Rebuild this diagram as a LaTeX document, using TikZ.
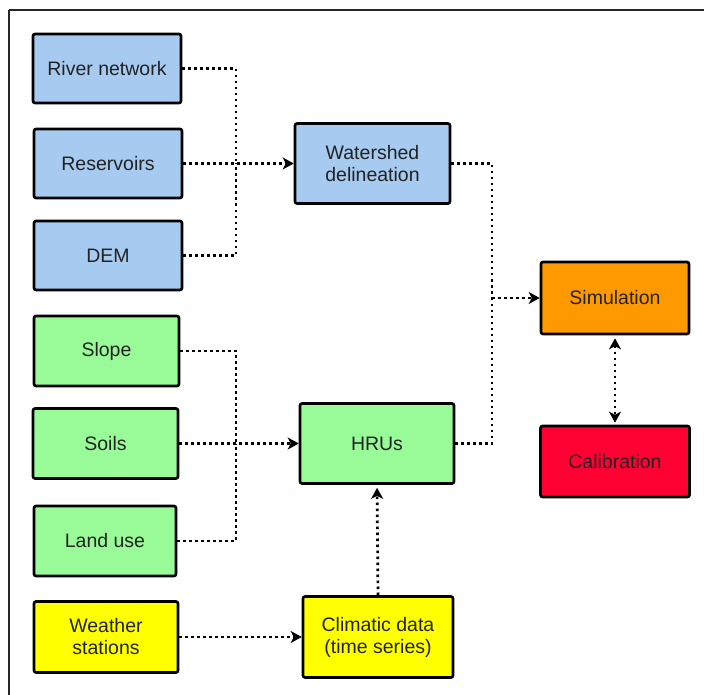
\documentclass[tikz,border=0pt]{standalone}
\usepackage{fontspec}
\setmainfont{Liberation Sans}
\usetikzlibrary{arrows.meta}
\definecolor{cblue}{HTML}{A6CAF0}
\definecolor{cgreen}{HTML}{98FB98}
\definecolor{cyellow}{HTML}{FFFF00}
\definecolor{corange}{HTML}{FF9900}
\definecolor{cred}{HTML}{FF0033}
\definecolor{ctext}{HTML}{222222}
\tikzset{
  box/.style={draw=black, line width=2.6pt, rounded corners=2pt, align=center,
    inner sep=0pt, text=ctext, font=\fontsize{19.5}{22}\selectfont},
  conn/.style={line width=2.7pt, dash pattern=on 2.7pt off 3.3pt},
  arrtip/.tip={Stealth[length=11pt,width=12pt,inset=3pt]},
  tip/.style={-arrtip},
  frameline/.style={line width=1.6pt, draw=black!85}
}
\begin{document}
\begin{tikzpicture}[x=1pt,y=-1pt]
\useasboundingbox (0,0) rectangle (704,695);
\fill[white] (0,0) rectangle (704,695);
\draw[frameline] (9,10) -- (704,10);
\draw[frameline] (9,10) -- (9,695);

% blue inputs
\node[box, fill=cblue, minimum width=148pt, minimum height=69pt] (river) at (107,68.5) {River network};
\node[box, fill=cblue, minimum width=148pt, minimum height=69pt] (res) at (108,163.5) {Reservoirs};
\node[box, fill=cblue, minimum width=148pt, minimum height=69pt] (dem) at (108,255.5) {DEM};
\node[box, fill=cblue, minimum width=155pt, minimum height=80pt] (ws) at (372.5,163.5) {Watershed\\delineation};

% green inputs
\node[box, fill=cgreen, minimum width=145pt, minimum height=70pt] (slope) at (106.5,351) {Slope};
\node[box, fill=cgreen, minimum width=145pt, minimum height=70pt] (soils) at (105.5,443.5) {Soils};
\node[box, fill=cgreen, minimum width=142pt, minimum height=70pt] (land) at (105,541) {Land use};
\node[box, fill=cgreen, minimum width=154pt, minimum height=80pt] (hru) at (377,443.5) {HRUs};

% yellow
\node[box, fill=cyellow, minimum width=144pt, minimum height=71pt] (weather) at (106,637) {Weather\\stations};
\node[box, fill=cyellow, minimum width=150pt, minimum height=81pt] (clim) at (378,637) {Climatic data\\(time series)};

% right
\node[box, fill=corange, minimum width=148pt, minimum height=72pt] (sim) at (615,298) {Simulation};
\node[box, fill=cred, minimum width=149pt, minimum height=71pt] (cal) at (615,461.5) {Calibration};

% junctions
\coordinate (jb) at (236,163.5);
\coordinate (jg) at (236,443.5);
\coordinate (jr) at (492,298);

% connectors
\draw[conn] (river.east) -| (jb);
\draw[conn] (dem.east) -| (jb);
\draw[conn, tip] (res.east) -- (ws.west);

\draw[conn] (slope.east) -| (jg);
\draw[conn] (land.east) -| (jg);
\draw[conn, tip] (soils.east) -- (hru.west);

\draw[conn] (ws.east) -| (jr);
\draw[conn] (hru.east) -| (jr);
\draw[conn, tip] (jr) -- (sim.west);

\draw[conn, tip, shorten >=3pt] (clim.north) -- (hru.south);
\draw[conn, tip] (weather.east) -- (clim.west);

\draw[conn, arrtip-arrtip, shorten <=3pt, shorten >=2pt] (sim.south) -- (cal.north);
\end{tikzpicture}
\end{document}
